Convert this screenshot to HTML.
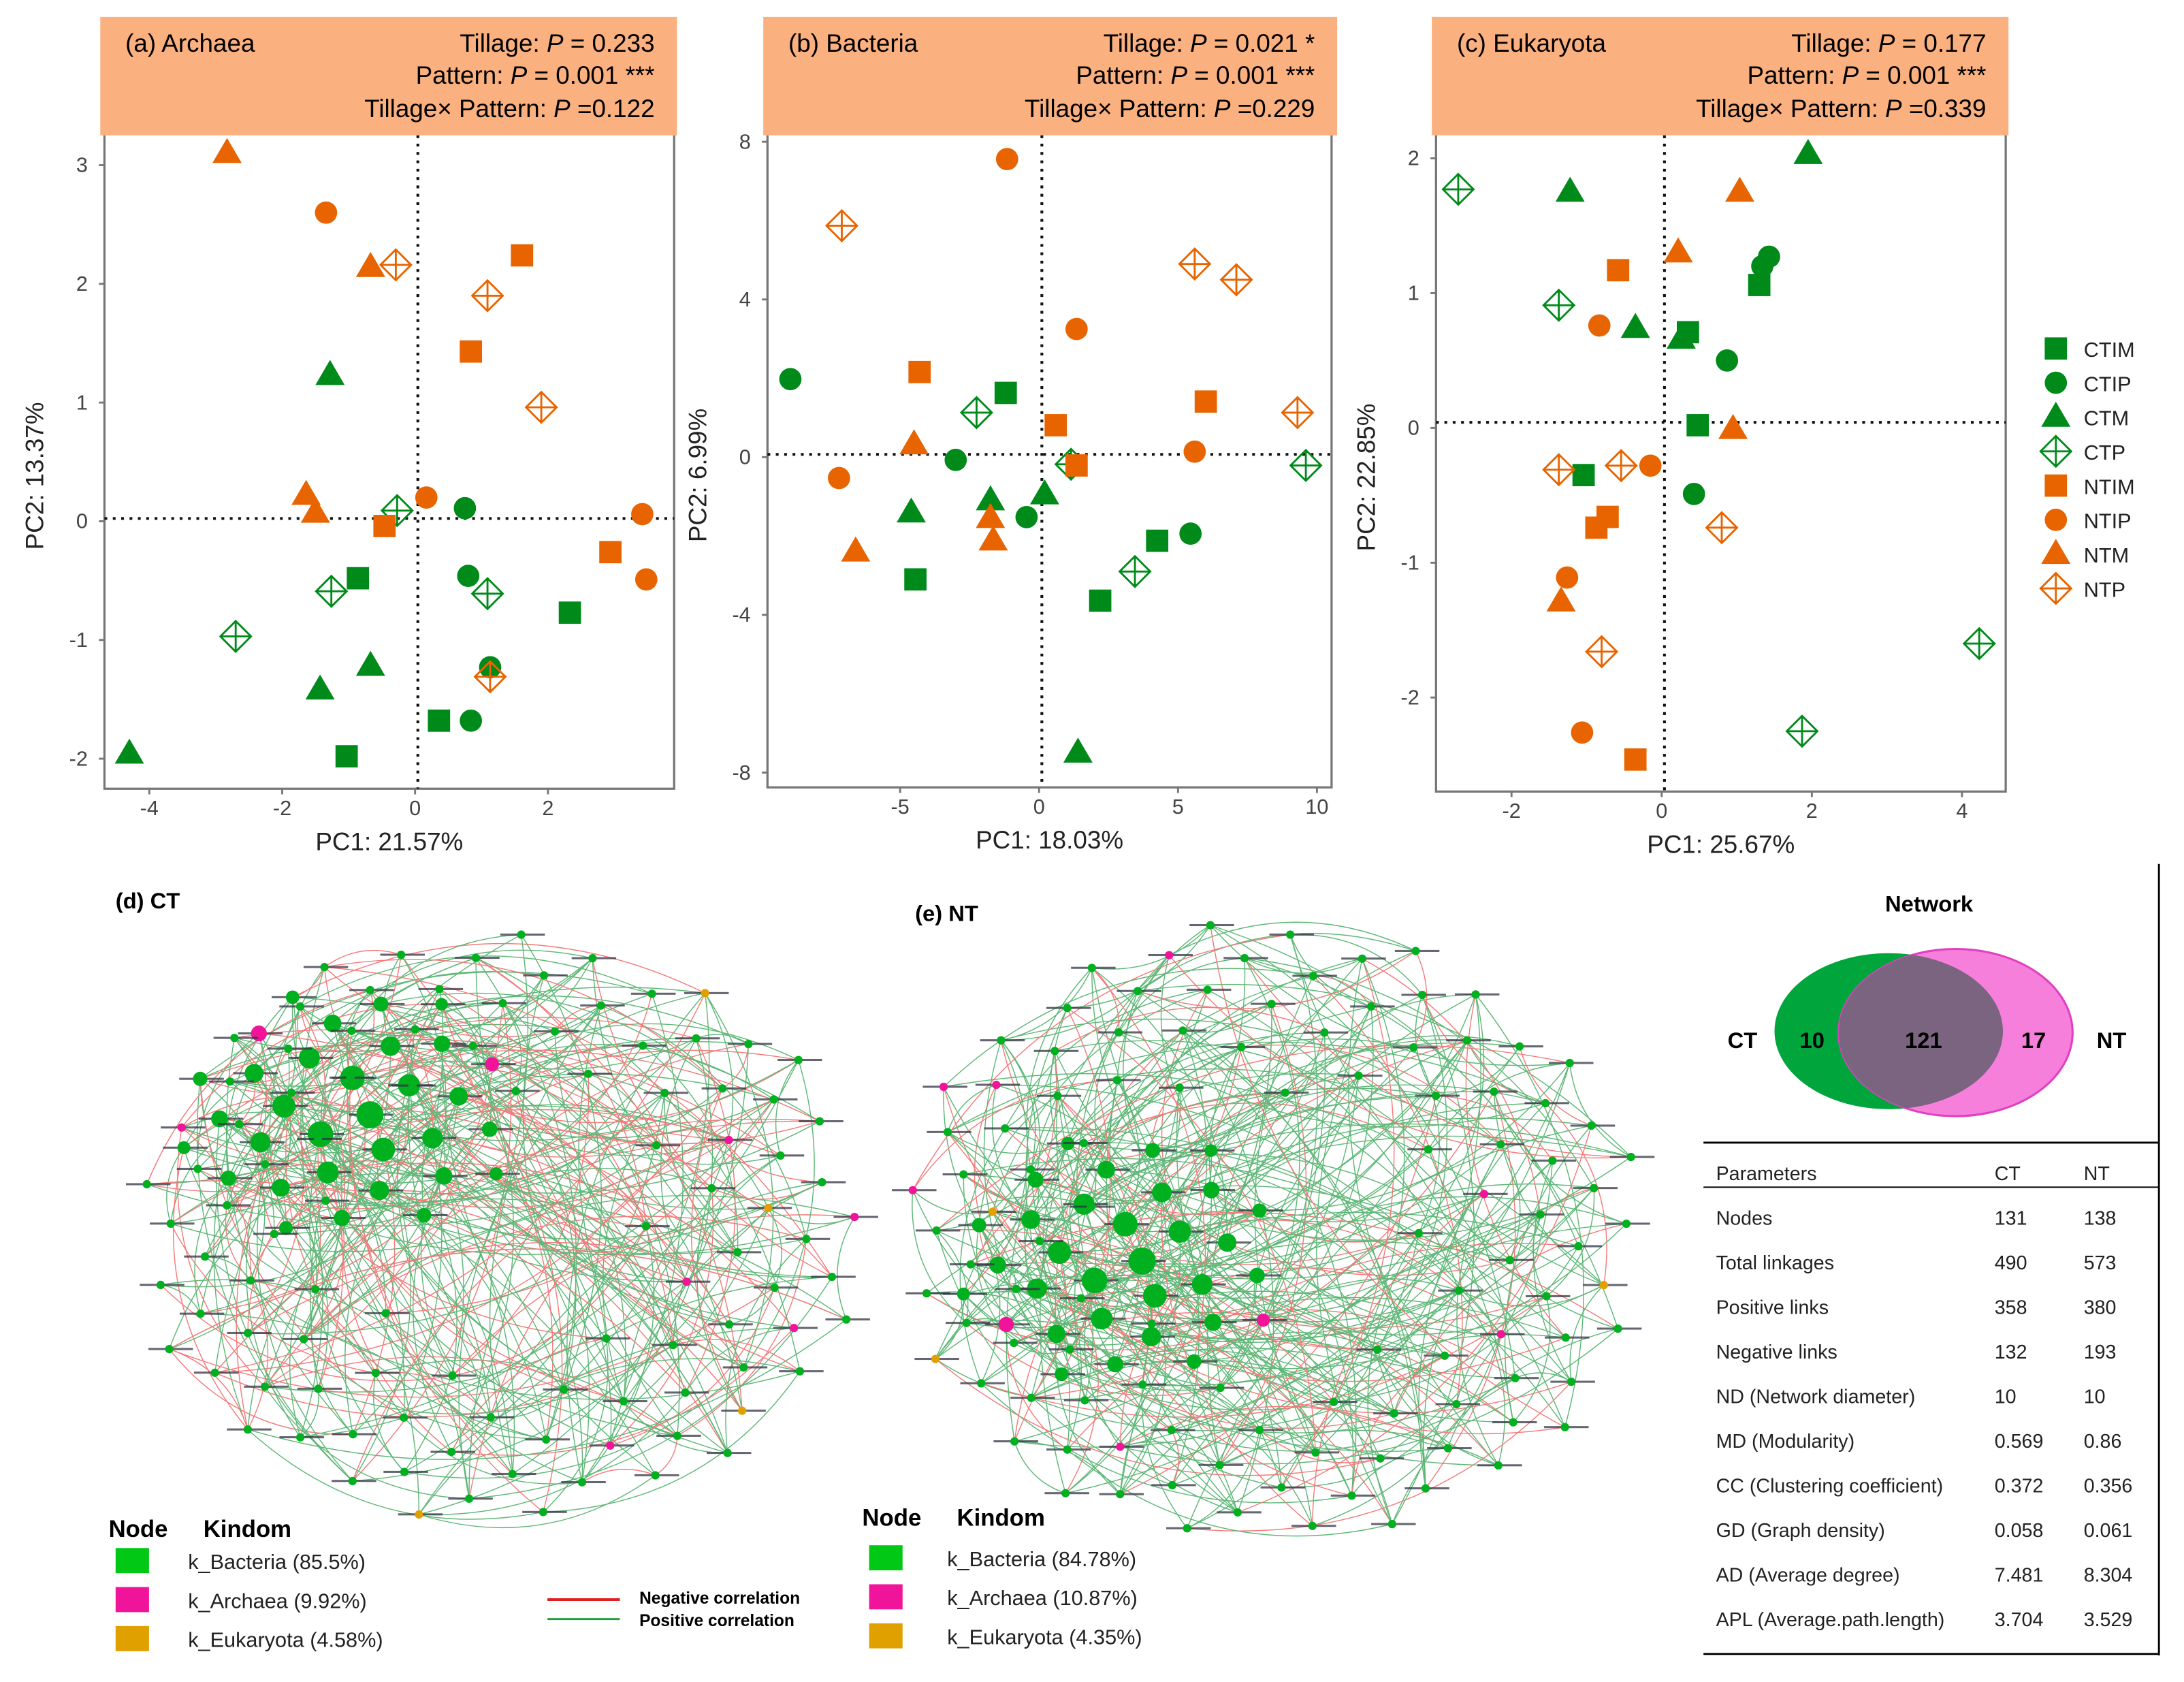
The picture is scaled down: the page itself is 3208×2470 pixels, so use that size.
<!DOCTYPE html>
<html><head><meta charset="utf-8">
<style>
html,body{margin:0;padding:0;background:#fff;}
svg{display:block;font-family:"Liberation Sans",Arial,sans-serif;}
</style></head>
<body>
<svg id="root" width="3208" height="2470" viewBox="0 0 1568 1207" xmlns="http://www.w3.org/2000/svg">
<g id="pca"></g>
<g id="legend"></g>
<g id="netD"></g>
<g id="netE"></g>
<g id="venn">
  <defs><clipPath id="clipG"><ellipse cx="1356" cy="740" rx="82" ry="56"/></clipPath></defs>
  <text x="1385" y="654" font-size="16" font-weight="bold" text-anchor="middle">Network</text>
  <ellipse cx="1356" cy="740" rx="82" ry="56" fill="#00a63c"/>
  <ellipse cx="1404" cy="741" rx="84" ry="60" fill="#f77fdc" stroke="#e040c0" stroke-width="1.5"/>
  <ellipse cx="1404" cy="741" rx="84" ry="60" fill="#7a6480" clip-path="url(#clipG)"/>
  <text x="1251" y="752" font-size="16" font-weight="bold" text-anchor="middle">CT</text>
  <text x="1301" y="752" font-size="16" font-weight="bold" text-anchor="middle">10</text>
  <text x="1381" y="752" font-size="16" font-weight="bold" text-anchor="middle">121</text>
  <text x="1460" y="752" font-size="16" font-weight="bold" text-anchor="middle">17</text>
  <text x="1516" y="752" font-size="16" font-weight="bold" text-anchor="middle">NT</text>
</g>
<g id="table"></g>
</svg>
<script>
const NS="http://www.w3.org/2000/svg";
function mk(tag,attrs,parent){const e=document.createElementNS(NS,tag);for(const k in attrs)e.setAttribute(k,attrs[k]);if(parent)parent.appendChild(e);return e;}
const GREEN="#008a1a", ORANGE="#e86400";

// ---------- PCA data ----------
const groups=["CTIM","CTIP","CTM","CTP","NTIM","NTIP","NTM","NTP"];
const shapes=["square","circle","triangle","diamond","square","circle","triangle","diamond"];
const groupColors=[GREEN,GREEN,GREEN,GREEN,ORANGE,ORANGE,ORANGE,ORANGE];
const archaeaX=[[-0.86,2.33,0.36,-1.03],[0.75,0.80,1.13,0.84],[-1.28,-4.3,-1.43,-0.67],[-0.27,-1.26,1.09,-2.7],[1.61,0.84,-0.46,2.94],[-1.34,0.17,3.42,3.48],[-2.83,-0.67,-1.64,-1.5],[-0.29,1.09,1.9,1.13]];
const archaeaY=[[-0.48,-0.77,-1.68,-1.98],[0.11,-0.46,-1.23,-1.68],[1.23,-1.96,-1.42,-1.22],[0.09,-0.59,-0.61,-0.97],[2.24,1.43,-0.04,-0.26],[2.6,0.2,0.06,-0.49],[3.1,2.14,0.22,0.07],[2.16,1.9,0.96,-1.31]];
const bacteriaX=[[-1.2,-4.45,4.25,2.2],[-8.95,-3.0,-0.45,5.45],[-1.75,0.2,1.4,-4.6],[-2.25,1.15,3.45,9.6],[-4.3,0.6,1.35,6.0],[-1.15,1.35,-7.2,5.6],[-4.5,-6.6,-1.75,-1.65],[-7.1,5.6,7.1,9.3]];
const bacteriaY=[[1.63,-3.1,-2.12,-3.64],[1.98,-0.07,-1.52,-1.94],[-1.1,-0.95,-7.5,-1.41],[1.13,-0.18,-2.9,-0.21],[2.16,0.81,-0.21,1.41],[7.56,3.25,-0.53,0.14],[0.32,-2.4,-1.55,-2.12],[5.87,4.9,4.5,1.13]];
const eukX=[[1.3,0.35,0.48,-1.04],[1.43,1.34,0.87,0.43],[-1.22,1.95,-0.35,0.26],[-2.71,-1.37,4.23,1.87],[-0.58,-0.72,-0.87,-0.35],[-0.83,-0.15,-1.26,-1.06],[1.04,0.22,0.95,-1.34],[-1.37,-0.54,0.8,-0.8]];
const eukY=[[1.06,0.71,0.02,-0.35],[1.27,1.2,0.5,-0.49],[1.75,2.03,0.74,0.66],[1.77,0.91,-1.6,-2.25],[1.17,-0.66,-0.74,-2.46],[0.76,-0.28,-1.11,-2.26],[1.75,1.3,-0.01,-1.29],[-0.31,-0.28,-0.74,-1.66]];
const archaeaXTicks=[-4,-2,0,2], archaeaYTicks=[3,2,1,0,-1,-2];
const bacteriaXTicks=[-5,0,5,10], bacteriaYTicks=[8,4,0,-4,-8];
const eukXTicks=[-2,0,2,4], eukYTicks=[2,1,0,-1,-2];

const panels=[
 {id:"archaea",title:"(a) Archaea",p:["0.233",""],p2:"0.001 ***",p3:"0.122",box:[72,12,486,97],plot:[75,97,484,566],x0:298,xs:47.7,y0:374,ys:85.2,xT:archaeaXTicks,yT:archaeaYTicks,X:archaeaX,Y:archaeaY,xl:"PC1: 21.57%",yl:"PC2: 13.37%",vx:300,hy:372},
 {id:"bacteria",title:"(b) Bacteria",p:["0.021 *",""],p2:"0.001 ***",p3:"0.229",box:[548,12,960,97],plot:[551,97,956,565],x0:746,xs:19.95,y0:328,ys:28.3,xT:bacteriaXTicks,yT:bacteriaYTicks,X:bacteriaX,Y:bacteriaY,xl:"PC1: 18.03%",yl:"PC2: 6.99%",vx:748,hy:326},
 {id:"eukaryota",title:"(c) Eukaryota",p:["0.177",""],p2:"0.001 ***",p3:"0.339",box:[1028,12,1442,97],plot:[1031,97,1440,568],x0:1193,xs:53.9,y0:307,ys:96.75,xT:eukXTicks,yT:eukYTicks,X:eukX,Y:eukY,xl:"PC1: 25.67%",yl:"PC2: 22.85%",vx:1195,hy:303}
];

function marker(g,shape,col,cx,cy,name){
  let e;
  if(shape==="square"){e=mk("rect",{x:cx-8,y:cy-8,width:16,height:16,fill:col},g);}
  else if(shape==="circle"){e=mk("circle",{cx:cx,cy:cy,r:8,fill:col},g);}
  else if(shape==="triangle"){e=mk("polygon",{points:`${cx},${cy-11} ${cx+10.5},${cy+7} ${cx-10.5},${cy+7}`,fill:col},g);}
  else {e=mk("g",{},g);
    mk("polygon",{points:`${cx},${cy-11} ${cx+11},${cy} ${cx},${cy+11} ${cx-11},${cy}`,fill:"none",stroke:col,"stroke-width":1.4},e);
    mk("line",{x1:cx-11,y1:cy,x2:cx+11,y2:cy,stroke:col,"stroke-width":1.4},e);
    mk("line",{x1:cx,y1:cy-11,x2:cx,y2:cy+11,stroke:col,"stroke-width":1.4},e);}
  
  
  return e;
}

const pca=document.getElementById("pca");
panels.forEach(P=>{
  const g=mk("g",{},pca);
  
  
  const sx=v=>P.x0+v*P.xs, sy=v=>P.y0-v*P.ys;
  const [bx1,by1,bx2,by2]=P.box;
  const hdr=mk("rect",{x:bx1,y:by1,width:bx2-bx1,height:by2-by1,fill:"#fbb07f"},g);
  
  
  let t=mk("text",{x:bx1+18,y:by1+25,"font-size":18},g);t.textContent=P.title;
  
  
  const rx=bx2-16;
  t=mk("text",{x:rx,y:by1+25,"font-size":18,"text-anchor":"end"},g);t.innerHTML='Tillage: <tspan font-style="italic">P</tspan> = '+P.p[0];
  
  
  t=mk("text",{x:rx,y:by1+48,"font-size":18,"text-anchor":"end"},g);t.innerHTML='Pattern: <tspan font-style="italic">P</tspan> = '+P.p2;
  
  
  t=mk("text",{x:rx,y:by1+72,"font-size":18,"text-anchor":"end"},g);t.innerHTML='Tillage× Pattern: <tspan font-style="italic">P</tspan> ='+P.p3;
  
  
  const [px1,py1,px2,py2]=P.plot;
  const fr=mk("path",{d:`M${px1},${py1} V${py2} H${px2} V${py1}`,fill:"none",stroke:"#777","stroke-width":1.6},g);
  
  
  const vl=mk("line",{x1:P.vx,y1:py1,x2:P.vx,y2:py2,stroke:"#111","stroke-width":2,"stroke-dasharray":"2,4"},g);
  
  
  const hl=mk("line",{x1:px1,y1:P.hy,x2:px2,y2:P.hy,stroke:"#111","stroke-width":2,"stroke-dasharray":"2,4"},g);
  
  
  P.xT.forEach(v=>{const x=sx(v);mk("line",{x1:x,y1:py2,x2:x,y2:py2+4,stroke:"#777","stroke-width":1.4},g);
    const tt=mk("text",{x:x,y:py2+19,"font-size":15,fill:"#444","text-anchor":"middle"},g);tt.textContent=v;
    
    });
  P.yT.forEach(v=>{const y=sy(v);mk("line",{x1:px1-4,y1:y,x2:px1,y2:y,stroke:"#777","stroke-width":1.4},g);
    const tt=mk("text",{x:px1-12,y:y+5,"font-size":15,fill:"#444","text-anchor":"end"},g);tt.textContent=v;
    
    });
  t=mk("text",{x:(px1+px2)/2,y:py2+44,"font-size":18,fill:"#222","text-anchor":"middle"},g);t.textContent=P.xl;
  
  
  const ly=(py1+py2)/2+10, lx=px1-44;
  t=mk("text",{x:lx,y:ly,"font-size":18,fill:"#222","text-anchor":"middle",transform:`rotate(-90 ${lx} ${ly})`},g);t.textContent=P.yl;
  
  
  groups.forEach((gr,i)=>{P.X[i].forEach((xv,k)=>{marker(g,shapes[i],groupColors[i],sx(xv),sy(P.Y[i][k]),'point-'+gr.toLowerCase());});});
});

// legend
const lg=document.getElementById("legend");
groups.forEach((gr,i)=>{const y=250+i*24.6;
  marker(lg,shapes[i],groupColors[i],1476,y,'legend-key-'+gr.toLowerCase());
  const t=mk("text",{x:1496,y:y+6,"font-size":15,fill:"#222"},lg);t.textContent=gr;
  
  });

// ---------- Networks ----------
const netCT={n:131,cx:360,cy:880,rx:262,ry:215,bigCx:250,bigCy:800,bigRx:125,bigRy:95,big:32,pink:[20,26,40,58,77,95,112,121],yel:[66,103,118,127]};
const netNT={n:138,cx:912,cy:885,rx:270,ry:225,bigCx:805,bigCy:905,bigRx:120,bigRy:95,big:32,pink:[22,29,45,61,80,99,115,125,133],yel:[70,108,130]};
function drawNet(gid,N,title,tx,ty){
  const g=document.getElementById(gid);
  const nodes=[];
  for(let i=0;i<N.n;i++){
    let x,y,r;
    if(i<N.big){const rr=Math.sqrt((i+0.5)/N.big),a=i*2.39996;
      x=N.bigCx+rr*Math.cos(a)*N.bigRx; y=N.bigCy+rr*Math.sin(a)*N.bigRy; r=4.5+(1-rr)*6;}
    else{const k=i-N.big,M=N.n-N.big,rr=0.35+0.65*Math.sqrt((k+0.5)/M),a=k*2.39996;
      x=N.cx+rr*Math.cos(a)*N.rx; y=N.cy+rr*Math.sin(a)*N.ry; r=3;}
    let col="#00b01e";
    if(N.pink.includes(i)){col="#f0149a";}
    if(N.yel.includes(i)){col="#e0a000";}
    nodes.push({x,y,r,col});
  }
  const eg=mk("g",{fill:"none","stroke-width":0.7,opacity:0.75},g);
  const mults=[7,13,29,47];
  for(let i=0;i<N.n;i++){
    mults.forEach((m,mi)=>{
      if(i>=N.big && mi>1 && i%2) return;
      const j=(i*m+mi*11+5)%N.n; if(j===i) return;
      const a=nodes[i],b=nodes[j];
      const mx=(a.x+b.x)/2+(b.y-a.y)*0.25, my=(a.y+b.y)/2-(b.x-a.x)*0.25;
      const red=((i+j+mi)%3===0);
      const e=mk("path",{d:`M${a.x},${a.y} Q${mx},${my} ${b.x},${b.y}`,stroke:red?"#f05050":"#2aa04a"},eg);
      
      
    });
  }
  nodes.forEach((nd,i)=>{
    mk("rect",{x:nd.x-15,y:nd.y-0.8,width:32,height:1.5,fill:"#334",opacity:0.75},g);
    const c=mk("circle",{cx:nd.x,cy:nd.y,r:nd.r,fill:nd.col},g);
    
    
  });
  const t=mk("text",{x:tx,y:ty,"font-size":16,"font-weight":"bold"},g);t.textContent=title;
  
  
}
drawNet("netD",netCT,"(d) CT",83,652);
drawNet("netE",netNT,"(e) NT",657,661);

// network legends
function netLegend(x0,y0,pcts,kx,off){
  const g=mk("g",{},document.getElementById("root"));
  
  
  let t=mk("text",{x:x0,y:y0,"font-size":17,"font-weight":"bold"},g);t.textContent="Node";
  t=mk("text",{x:x0+68,y:y0,"font-size":17,"font-weight":"bold"},g);t.textContent="Kindom";
  const cols=["#00c814","#f0149a","#e0a000"],names=["k_Bacteria","k_Archaea","k_Eukaryota"];
  names.forEach((n,i)=>{const y=y0+off+i*28;
    mk("rect",{x:x0+5,y:y-10,width:24,height:18,fill:cols[i]},g);
    const tt=mk("text",{x:x0+kx,y:y+5,"font-size":15,fill:"#222"},g);tt.textContent=n+"  ("+pcts[i]+")";
    
    });
}
netLegend(78,1103,["85.5%","9.92%","4.58%"],57,18);
netLegend(619,1095,["84.78%","10.87%","4.35%"],61,24);
(function(){const g=mk("g",{},document.getElementById("root"));
  
  
  mk("line",{x1:393,y1:1148,x2:445,y2:1148,stroke:"#e02020","stroke-width":2},g);
  mk("line",{x1:393,y1:1162,x2:445,y2:1162,stroke:"#20a040","stroke-width":1.5},g);
  let t=mk("text",{x:459,y:1151,"font-size":12,"font-weight":"bold"},g);t.textContent="Negative correlation";
  t=mk("text",{x:459,y:1167,"font-size":12,"font-weight":"bold"},g);t.textContent="Positive correlation";})();

// ---------- Table ----------
const paramNames=["Nodes","Total linkages","Positive links","Negative links","ND (Network diameter)","MD (Modularity)","CC (Clustering coefficient)","GD (Graph density)","AD (Average degree)","APL (Average.path.length)"];
const ctVals=["131","490","358","132","10","0.569","0.372","0.058","7.481","3.704"];
const ntVals=["138","573","380","193","10","0.86","0.356","0.061","8.304","3.529"];
(function(){const g=document.getElementById("table");
  mk("line",{x1:1550,y1:620,x2:1550,y2:1188,stroke:"#000","stroke-width":1.4},g);
  mk("line",{x1:1223,y1:820,x2:1550,y2:820,stroke:"#000","stroke-width":1.4},g);
  mk("line",{x1:1223,y1:852,x2:1550,y2:852,stroke:"#000","stroke-width":1},g);
  mk("line",{x1:1223,y1:1187,x2:1550,y2:1187,stroke:"#000","stroke-width":1.4},g);
  const hdr=[["Parameters",1232],["CT",1432],["NT",1496]];
  hdr.forEach(h=>{const t=mk("text",{x:h[1],y:847,"font-size":14,fill:"#222"},g);t.textContent=h[0];
    
    });
  paramNames.forEach((p,i)=>{const y=879+i*32;
    let t=mk("text",{x:1232,y:y,"font-size":14,fill:"#222"},g);t.textContent=p;
    
    
    t=mk("text",{x:1432,y:y,"font-size":14,fill:"#222"},g);t.textContent=ctVals[i];
    
    
    t=mk("text",{x:1496,y:y,"font-size":14,fill:"#222"},g);t.textContent=ntVals[i];
    
    });
})();
</script>
</body></html>
